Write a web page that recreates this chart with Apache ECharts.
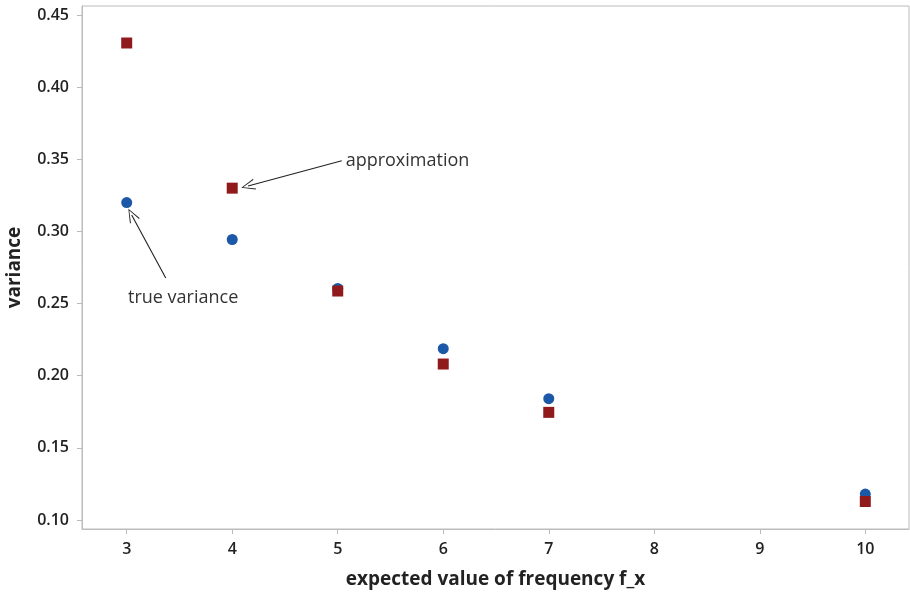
<!DOCTYPE html>
<html>
<head>
<meta charset="utf-8">
<script src="https://cdn.jsdelivr.net/npm/echarts@6/dist/echarts.min.js"></script>
<style>
  html, body { margin: 0; padding: 0; background: #fff; }
  #chart { width: 910px; height: 596px; }
</style>
</head>
<body>
<div id="chart"></div>
<script>
// Expected value of frequency f_x
const freqs = [3, 4, 5, 6, 7, 10];
// Variance measured directly vs. the approximation formula
const trueVariance = [0.320, 0.2944, 0.2605, 0.2187, 0.1841, 0.1180];
const approxVariance = [0.4306, 0.330, 0.2587, 0.2081, 0.1746, 0.1128];
// Axis ticks
const xTicks = [3, 4, 5, 6, 7, 8, 9, 10];
const yTicks = [0.10, 0.15, 0.20, 0.25, 0.30, 0.35, 0.40, 0.45];

const BLUE = '#1c58a8';
const RED = '#901a1b';
const AXIS = '#bcbcbc';
const FONT = '"Open Sans", "Noto Sans", sans-serif';

// open chevron arrow head, drawn pointing along the line
const chevron = 'path://M10,0 L20,20 L18.4,20.8 L10,3 L1.6,20.8 L0,20 Z';

const chart = echarts.init(document.getElementById('chart'), null, { renderer: 'canvas' });

const arrowStyle = { color: '#222', width: 1.1, type: 'solid', opacity: 1 };

chart.setOption({
  animation: false,
  backgroundColor: '#ffffff',
  grid: {
    left: 82, right: 1, top: 6, bottom: 67,
    outerBoundsMode: 'none',
    containLabel: false,
    show: true, borderColor: AXIS, borderWidth: 1, backgroundColor: 'transparent'
  },
  xAxis: {
    type: 'value',
    min: 2.5763, max: 10.4142,
    name: 'expected value of frequency f_x',
    nameLocation: 'middle',
    nameGap: 41,
    nameTextStyle: { fontFamily: FONT, fontSize: 19, fontWeight: 'bold', color: '#222' },
    axisLine: { show: true, lineStyle: { color: AXIS } },
    axisTick: { show: true, length: 5, inside: false, lineStyle: { color: AXIS }, customValues: xTicks },
    axisLabel: { customValues: xTicks, fontFamily: FONT, fontSize: 16, fontWeight: 600, color: '#222', margin: 12 },
    splitLine: { show: false }
  },
  yAxis: {
    type: 'value',
    min: 0.09376, max: 0.45624,
    name: 'variance',
    nameLocation: 'middle',
    nameGap: 58,
    nameRotate: 90,
    nameTextStyle: { fontFamily: FONT, fontSize: 19, fontWeight: 'bold', color: '#222' },
    axisLine: { show: true, lineStyle: { color: AXIS } },
    axisTick: { show: true, length: 5, inside: false, lineStyle: { color: AXIS }, customValues: yTicks },
    axisLabel: {
      customValues: yTicks, fontFamily: FONT, fontSize: 16, fontWeight: 600, color: '#222', margin: 13,
      formatter: v => v.toFixed(2)
    },
    splitLine: { show: false }
  },
  series: [
    {
      name: 'true variance',
      type: 'scatter',
      symbol: 'circle',
      symbolSize: 11,
      itemStyle: { color: BLUE, opacity: 1 },
      data: freqs.map((f, i) => [f, trueVariance[i]]),
      z: 2,
      markLine: {
        silent: true,
        symbol: ['none', chevron],
        symbolSize: [11, 14],
        lineStyle: arrowStyle,
        label: { show: false },
        data: [[{ coord: [3.37, 0.2677] }, { coord: [3.047, 0.3114] }]]
      },
      markPoint: {
        silent: true,
        symbol: 'circle',
        symbolSize: 0,
        label: { show: true, position: 'inside', fontFamily: FONT, fontSize: 18, color: '#333', formatter: 'true variance' },
        data: [{ coord: [3.535, 0.2538] }]
      }
    },
    {
      name: 'approximation',
      type: 'scatter',
      symbol: 'rect',
      symbolSize: 11,
      itemStyle: { color: RED, opacity: 1 },
      data: freqs.map((f, i) => [f, approxVariance[i]]),
      z: 3,
      markLine: {
        silent: true,
        symbol: ['none', chevron],
        symbolSize: [11, 14],
        lineStyle: arrowStyle,
        label: { show: false },
        data: [[{ coord: [5.038, 0.349] }, { coord: [4.15, 0.3315] }]]
      },
      markPoint: {
        silent: true,
        symbol: 'circle',
        symbolSize: 0,
        label: { show: true, position: 'right', distance: 0, fontFamily: FONT, fontSize: 18, color: '#333', formatter: 'approximation' },
        data: [{ coord: [5.075, 0.349] }]
      }
    }
  ]
});
</script>
</body>
</html>
